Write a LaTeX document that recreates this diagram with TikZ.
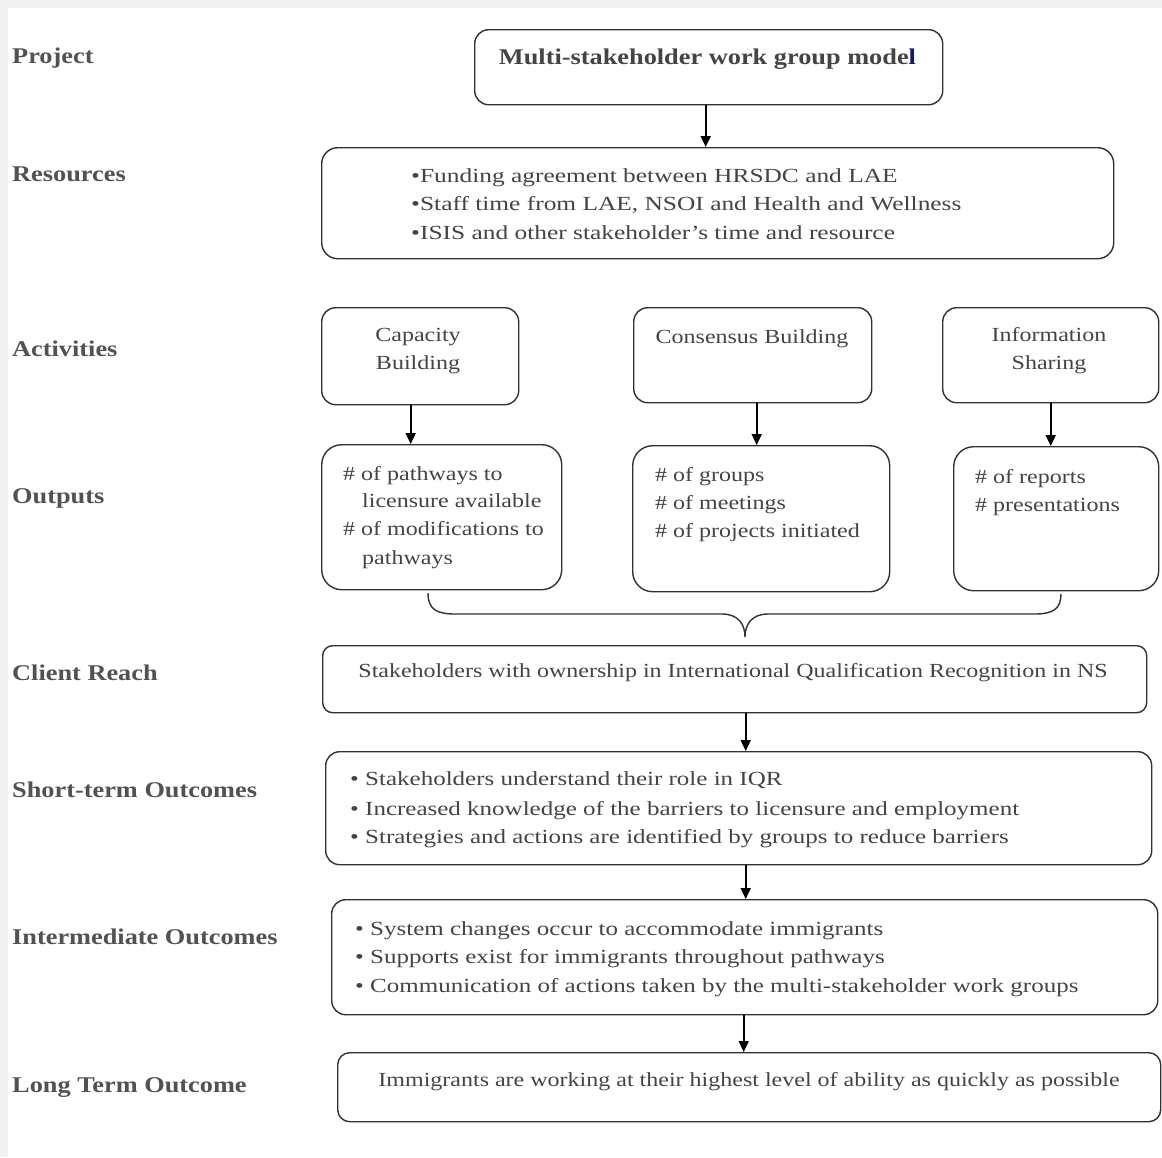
\documentclass[tikz,border=0pt]{standalone}
\usepackage{fontspec}
\setmainfont{Liberation Serif}
\newfontfamily\bodyA[FakeStretch=1.2]{Liberation Serif}
\newfontfamily\bodyB[FakeStretch=1.25]{Liberation Serif}
\newfontfamily\bodyC[FakeStretch=1.27]{Liberation Serif}
\newfontfamily\labfont[FakeStretch=1.17]{Liberation Serif}
\usetikzlibrary{arrows.meta}
\definecolor{txtgray}{RGB}{68,68,68}
\definecolor{labgray}{RGB}{82,82,82}
\definecolor{linegray}{RGB}{50,50,50}
\definecolor{framegray}{RGB}{241,241,241}
\definecolor{navyl}{RGB}{20,20,120}
\tikzset{
  box/.style={draw=linegray, line width=1.4pt, rounded corners=14pt, anchor=north west, inner sep=0pt},
  lab/.style={font=\labfont\bfseries\fontsize{22.5}{27}\selectfont, text=labgray, anchor=base west, inner sep=0pt},
  ttl/.style={font=\labfont\bfseries\fontsize{22.5}{27}\selectfont, text=txtgray, anchor=base, inner sep=0pt},
  txA/.style={font=\bodyA\fontsize{20}{24}\selectfont, text=txtgray, inner sep=0pt},
  txB/.style={font=\bodyB\fontsize{20}{24}\selectfont, text=txtgray, inner sep=0pt, anchor=base west},
  txC/.style={font=\bodyC\fontsize{20}{24}\selectfont, text=txtgray, inner sep=0pt, anchor=base west},
  arr/.style={-{Triangle[width=10pt,length=11pt]}, line width=1.8pt, black},
  brace/.style={draw=linegray, line width=1.4pt}
}
\begin{document}
\begin{tikzpicture}[x=1pt,y=-1pt]
\useasboundingbox (0,0) rectangle (1162,1157);
\fill[framegray] (0,0) rectangle (1162,1157);
\fill[white] (8,8) rectangle (1162,1157);

% left labels
\node[lab] (lproj) at (12,63) {Project};
\node[lab] (lres) at (12,181) {Resources};
\node[lab] (lact) at (12,356) {Activities};
\node[lab] (lout) at (12,503) {Outputs};
\node[lab] (lcli) at (12,680) {Client Reach};
\node[lab] (lsho) at (12,797) {Short-term Outcomes};
\node[lab] (lint) at (12,944) {Intermediate Outcomes};
\node[lab] (llon) at (12,1092) {Long Term Outcome};

% boxes
\node[box, minimum width=468pt, minimum height=75pt] (proj) at (474,29) {};
\node[box, rounded corners=16pt, minimum width=792pt, minimum height=111pt] (res) at (321,147) {};
\node[box, minimum width=197pt, minimum height=97pt] (cap) at (321,307) {};
\node[box, minimum width=238pt, minimum height=95pt] (cons) at (633,307) {};
\node[box, minimum width=216pt, minimum height=95pt] (info) at (942,307) {};
\node[box, rounded corners=20pt, minimum width=240pt, minimum height=145pt] (out1) at (321,444) {};
\node[box, rounded corners=20pt, minimum width=257pt, minimum height=146pt] (out2) at (632,445) {};
\node[box, rounded corners=20pt, minimum width=205pt, minimum height=144pt] (out3) at (953,446) {};
\node[box, rounded corners=10pt, minimum width=824pt, minimum height=67pt] (cli) at (322,645) {};
\node[box, minimum width=826pt, minimum height=113pt] (sho) at (325,751) {};
\node[box, minimum width=826pt, minimum height=115pt] (int) at (331,899) {};
\node[box, rounded corners=12pt, minimum width=823pt, minimum height=69pt] (lon) at (337,1052) {};

% texts
\node[ttl] (tproj) at (707.5,64) {Multi-stakeholder work group mode\textcolor{navyl}{l}};

\node[txC] (r1) at (411,182) {•Funding agreement between HRSDC and LAE};
\node[txC] (r2) at (411,210) {•Staff time from LAE, NSOI and Health and Wellness};
\node[txC] (r3) at (411,239) {•ISIS and other stakeholder’s time and resource};

\node[txA, anchor=base] (c1) at (418,341) {Capacity};
\node[txA, anchor=base] (c2) at (418,369) {Building};
\node[txA, anchor=base] (n1) at (752,343) {Consensus Building};
\node[txA, anchor=base] (i1) at (1049,341) {Information};
\node[txA, anchor=base] (i2) at (1049,369) {Sharing};

\node[txA, anchor=base west] (o11) at (343,480) {\# of pathways to};
\node[txA, anchor=base west] (o12) at (362,507) {licensure available};
\node[txA, anchor=base west] (o13) at (343,535) {\# of modifications to};
\node[txA, anchor=base west] (o14) at (362,564) {pathways};
\node[txA, anchor=base west] (o21) at (655,481) {\# of groups};
\node[txA, anchor=base west] (o22) at (655,509) {\# of meetings};
\node[txA, anchor=base west] (o23) at (655,537) {\# of projects initiated};
\node[txA, anchor=base west] (o31) at (975,483) {\# of reports};
\node[txA, anchor=base west] (o32) at (975,511) {\# presentations};

\node[txA, anchor=base] (tcli) at (733,677) {Stakeholders with ownership in International Qualification Recognition in NS};

\node[txB] (s1) at (350,785) {• Stakeholders understand their role in IQR};
\node[txB] (s2) at (350,815) {• Increased knowledge of the barriers to licensure and employment};
\node[txB] (s3) at (350,843) {• Strategies and actions are identified by groups to reduce barriers};

\node[txB] (m1) at (355,935) {• System changes occur to accommodate immigrants};
\node[txB] (m2) at (355,963) {• Supports exist for immigrants throughout pathways};
\node[txB] (m3) at (355,992) {• Communication of actions taken by the multi-stakeholder work groups};

\node[txA, anchor=base] (tlon) at (749,1086) {Immigrants are working at their highest level of ability as quickly as possible};

% arrows
\draw[arr] ([xshift=-3pt]proj.south) -- ([xshift=-3pt]proj.south |- res.north);
\draw[arr] ([xshift=-9.5pt]cap.south) -- ([xshift=-9.5pt]cap.south |- out1.north);
\draw[arr] ([xshift=4pt]cons.south) -- ([xshift=4pt]cons.south |- out2.north);
\draw[arr] (info.south) -- (info.south |- out3.north);
\draw[arr] ([xshift=11pt]cli.south) -- ([xshift=11pt]cli.south |- sho.north);
\draw[arr] ([xshift=7pt]sho.south) -- ([xshift=7pt]sho.south |- int.north);
\draw[arr] ([xshift=-1pt]int.south) -- ([xshift=-1pt]int.south |- lon.north);

% brace
\coordinate (bl) at (428,593);
\coordinate (bt) at (745,637);
\coordinate (br) at (1061,594);
\draw[brace] (bl) .. controls (428,609) and (436,614) .. (455,614) -- (722,614)
  .. controls (738,614) and (745,624) .. (bt)
  .. controls (745,624) and (752,614) .. (768,614) -- (1035,614)
  .. controls (1054,614) and (1061,608) .. (br);
\end{tikzpicture}
\end{document}
